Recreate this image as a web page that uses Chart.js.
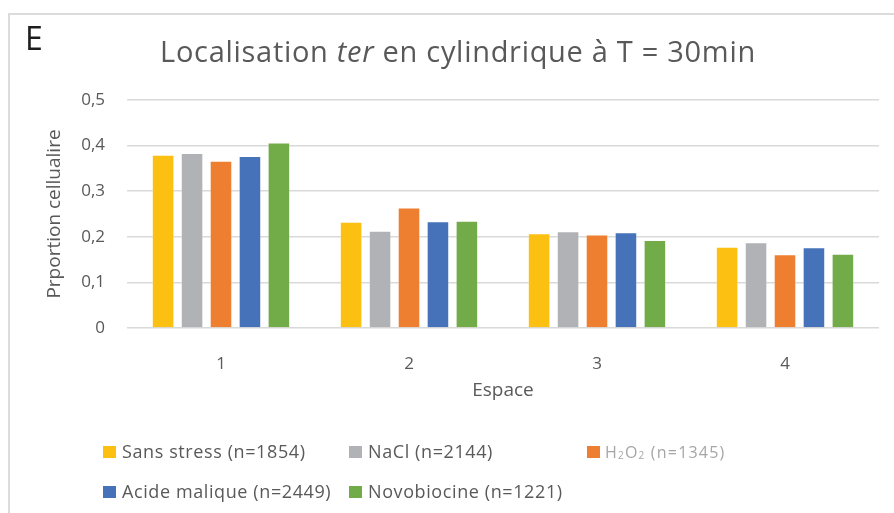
<!DOCTYPE html>
<html>
<head>
<meta charset="utf-8">
<script src="https://cdn.jsdelivr.net/npm/chart.js@4.4.1/dist/chart.umd.min.js"></script>
<style>
  html, body { margin: 0; padding: 0; background: #fff; }
  #wrap { position: relative; width: 894px; height: 513px; overflow: hidden; font-family: "Open Sans", sans-serif; }
  #cadre { position: absolute; left: 8px; top: 13px; width: 900px; height: 520px; border-left: 2px solid #dcdcdc; border-top: 2px solid #dcdcdc; }
  #graphique { position: absolute; left: 0; top: 0; }
  .leg { position: absolute; font-size: 18px; letter-spacing: 0.6px; color: #595959; white-space: nowrap; line-height: 22px; }
  .leg .box { position: absolute; left: 0; top: 6px; width: 13px; height: 12px; }
  .leg .txt { position: absolute; left: 19px; top: 0; }
  .leg.leger .txt { left: 18px; top: 1px; color: #a6a6a6; font-size: 16px; letter-spacing: 1.2px; }
  .leg sub { font-size: 10px; vertical-align: -1px; }
</style>
</head>
<body>
<div id="wrap">
  <div id="cadre"></div>
  <canvas id="graphique" width="894" height="513"></canvas>
  <div id="legende"></div>
</div>
<script>
// Espaces le long de la cellule
const categories = ['1', '2', '3', '4'];

// Proportion cellulaire par condition
const sansStress   = [0.380, 0.233, 0.208, 0.178];
const nacl         = [0.384, 0.213, 0.212, 0.188];
const h2o2         = [0.367, 0.264, 0.205, 0.162];
const acideMalique = [0.377, 0.234, 0.210, 0.177];
const novobiocine  = [0.407, 0.235, 0.193, 0.163];

const seriesLabels = ['Sans stress (n=1854)', 'NaCl (n=2144)', 'H₂O₂ (n=1345)', 'Acide malique (n=2449)', 'Novobiocine (n=1221)'];
const seriesValues = [sansStress, nacl, h2o2, acideMalique, novobiocine];
const seriesColors = ['#fbc012', '#b1b2b5', '#ee7f31', '#4672b9', '#72ac48'];

const yTicks = [0, 0.1, 0.2, 0.3, 0.4, 0.5];

const TEXTE = '#595959';
const POLICE = '"Open Sans", sans-serif';

// titre avec "ter" en italique + lettre du panneau
const titrePlugin = {
    id: 'titre',
    afterDraw(chart) {
        const ctx = chart.ctx;
        ctx.save();
        ctx.textBaseline = 'alphabetic';
        ctx.fillStyle = '#1e1e1e';
        ctx.font = '32px ' + POLICE;
        ctx.fillText('E', 25, 50);

        ctx.letterSpacing = '0.7px';
        const morceaux = [
            { t: 'Localisation ', f: '29px ' + POLICE },
            { t: 'ter', f: 'italic 29px ' + POLICE },
            { t: ' en cylindrique à T = 30min', f: '29px ' + POLICE }
        ];
        let total = 0;
        morceaux.forEach(m => { ctx.font = m.f; m.w = ctx.measureText(m.t).width; total += m.w; });
        let x = 458 - total / 2;
        ctx.fillStyle = TEXTE;
        morceaux.forEach(m => { ctx.font = m.f; ctx.fillText(m.t, x, 62); x += m.w; });
        ctx.restore();
    }
};

const ctx = document.getElementById('graphique').getContext('2d');
const chart = new Chart(ctx, {
    type: 'bar',
    data: {
        labels: categories,
        datasets: seriesValues.map((vals, i) => ({
            label: seriesLabels[i],
            data: vals,
            backgroundColor: seriesColors[i],
            borderColor: 'rgba(255,255,255,0.35)',
            borderWidth: 1,
            categoryPercentage: 0.77,
            barPercentage: 0.78
        }))
    },
    options: {
        responsive: false,
        animation: false,
        layout: { padding: { top: 100, right: 15, left: 0, bottom: 0 } },
        plugins: {
            legend: { display: false },
            tooltip: { enabled: true }
        },
        scales: {
            x: {
                grid: { display: false },
                border: { display: false },
                ticks: { color: TEXTE, font: { family: POLICE, size: 17 }, padding: 18 },
                title: {
                    display: true,
                    text: 'Espace',
                    color: TEXTE,
                    font: { family: POLICE, size: 19 },
                    padding: { top: 0, bottom: 111 }
                },
                afterFit: s => { s.height = 185; }
            },
            y: {
                min: 0,
                max: 0.5,
                afterBuildTicks: s => { s.ticks = yTicks.map(v => ({ value: v })); },
                grid: { color: '#d9d9d9', lineWidth: 1.5, drawTicks: false },
                border: { display: false },
                ticks: {
                    color: TEXTE,
                    font: { family: POLICE, size: 17 },
                    padding: 22,
                    callback: v => v === 0 ? '0' : v.toFixed(1).replace('.', ',')
                },
                title: {
                    display: true,
                    text: 'Prportion cellualire',
                    color: TEXTE,
                    font: { family: POLICE, size: 19 },
                    padding: { top: 43, bottom: 0 }
                },
                afterFit: s => { s.width = 127; }
            }
        }
    },
    plugins: [titrePlugin]
});

// légende sur deux lignes, colonnes alignées
const positions = [[103, 440], [349, 440], [587, 440], [103, 480], [349, 480]];
const legende = document.getElementById('legende');
chart.data.datasets.forEach((ds, i) => {
    const el = document.createElement('div');
    el.className = 'leg' + (i === 2 ? ' leger' : '');
    el.style.left = positions[i][0] + 'px';
    el.style.top = positions[i][1] + 'px';
    const txt = i === 2 ? 'H<sub>2</sub>O<sub>2</sub> (n=1345)' : ds.label;
    el.innerHTML = '<span class="box" style="background:' + ds.backgroundColor + '"></span><span class="txt">' + txt + '</span>';
    legende.appendChild(el);
});
</script>
</body>
</html>
